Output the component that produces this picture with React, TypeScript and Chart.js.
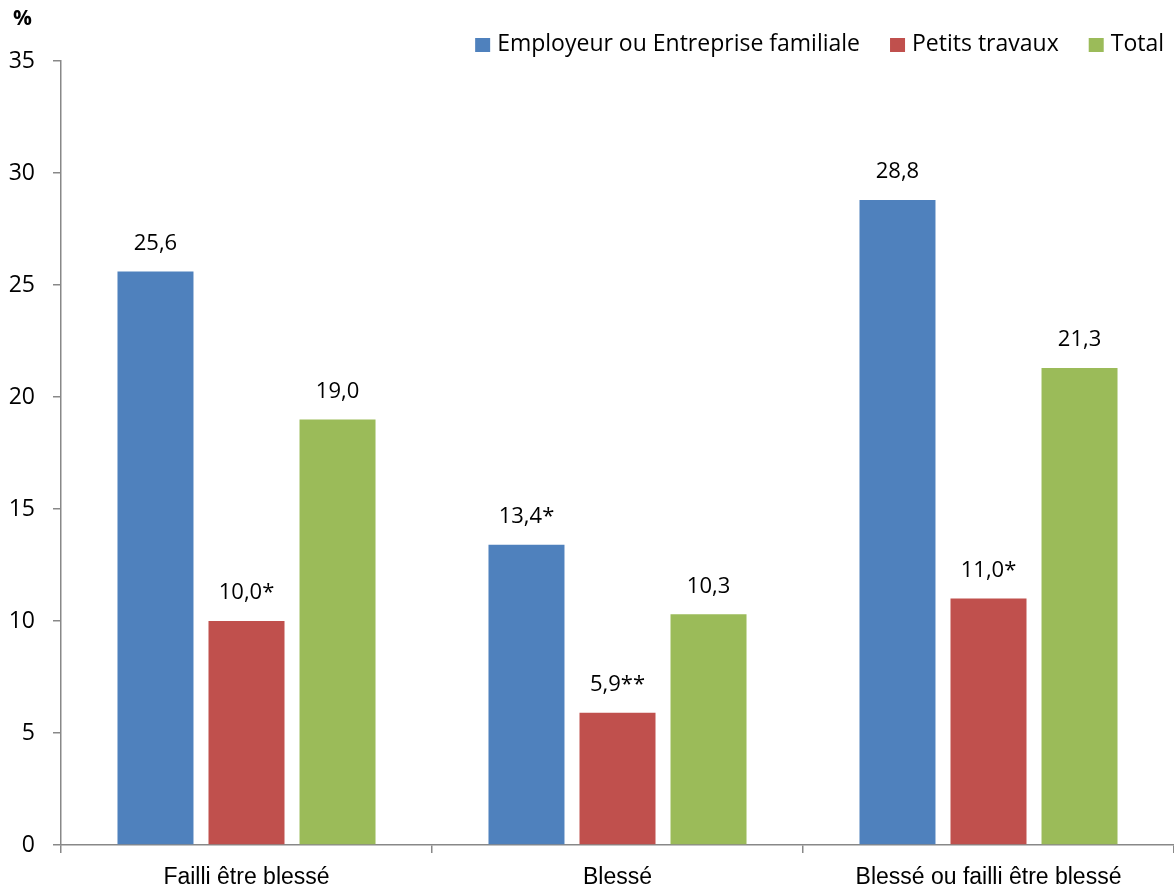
import React, { useEffect, useRef } from "react";
import { Chart, registerables } from "chart.js";

Chart.register(...registerables);

const categories = ["Failli être blessé", "Blessé", "Blessé ou failli être blessé"];
const seriesNames = ["Employeur ou Entreprise familiale", "Petits travaux", "Total"];
const employeurValues = [25.6, 13.4, 28.8];
const petitsValues = [10.0, 5.9, 11.0];
const totalValues = [19.0, 10.3, 21.3];
const employeurLabels = ["25,6", "13,4*", "28,8"];
const petitsLabels = ["10,0*", "5,9**", "11,0*"];
const totalLabels = ["19,0", "10,3", "21,3"];
const seriesColors = ["#4F81BD", "#C0504D", "#9BBB59"];
const yTicks = [0, 5, 10, 15, 20, 25, 30, 35];

const MAIN_FONT = "'Open Sans', Lato, sans-serif";
const NARROW_FONT = "'Liberation Sans Narrow', 'Arial Narrow', 'Liberation Sans', sans-serif";

const labelPlugin = {
  id: "customLabels",
  afterDatasetsDraw(chart: any) {
    const ctx = chart.ctx;
    const labelSets = [employeurLabels, petitsLabels, totalLabels];
    ctx.save();
    ctx.font = `22px ${MAIN_FONT}`;
    ctx.fillStyle = "#000";
    ctx.textAlign = "center";
    ctx.textBaseline = "middle";
    chart.data.datasets.forEach((ds: any, di: number) => {
      const meta = chart.getDatasetMeta(di);
      meta.data.forEach((bar: any, i: number) => {
        ctx.fillText(labelSets[di][i], bar.x, bar.y - 28);
      });
    });
    // % title
    ctx.font = `bold 21px ${MAIN_FONT}`;
    ctx.textAlign = "left";
    ctx.fillText("%", 13, 19);
    // legend
    ctx.font = `23px ${MAIN_FONT}`;
    let x = 1164;
    const items = chart.data.datasets.map((d: any) => ({ label: d.label, color: d.backgroundColor }));
    for (let k = items.length - 1; k >= 0; k--) {
      const w = ctx.measureText(items[k].label).width;
      const tx = x - w;
      ctx.fillStyle = "#000";
      ctx.textAlign = "left";
      ctx.fillText(items[k].label, tx, 44);
      ctx.fillStyle = items[k].color;
      ctx.fillRect(tx - 22, 38, 15, 14);
      x = tx - 22 - 30;
    }
    ctx.restore();
  },
};

export default function App() {
  const ref = useRef<HTMLCanvasElement>(null);
  useEffect(() => {
    document.body.style.margin = "0";
    const datasets = [employeurValues, petitsValues, totalValues].map((vals, i) => ({
      label: seriesNames[i],
      data: vals,
      backgroundColor: seriesColors[i],
      borderWidth: 0,
      barPercentage: 0.835,
      categoryPercentage: 0.736,
    }));
    const chart = new Chart(ref.current!, {
      type: "bar",
      data: { labels: categories, datasets },
      options: {
        animation: false,
        responsive: false,
        devicePixelRatio: 1,
        layout: { padding: { top: 61, right: 0, left: 0, bottom: 0 } },
        plugins: { legend: { display: false }, tooltip: { enabled: false } },
        scales: {
          x: {
            grid: { display: true, drawOnChartArea: false, offset: true, tickLength: 8, color: "#888", lineWidth: 1.5 },
            border: { display: true, color: "#888", width: 1.5 },
            ticks: { font: { family: NARROW_FONT, size: 23 }, color: "#000", padding: 11 },
            afterFit: (s: any) => { s.height = 45; },
          },
          y: {
            min: 0,
            max: 35,
            afterBuildTicks: (s: any) => { s.ticks = yTicks.map((v) => ({ value: v })); },
            grid: { display: true, drawOnChartArea: false, tickLength: 8, color: "#888", lineWidth: 1.5 },
            border: { display: true, color: "#888", width: 1.5 },
            ticks: { font: { family: MAIN_FONT, size: 23 }, color: "#000", padding: 18 },
            afterFit: (s: any) => { s.width = 61; },
          },
        },
      },
      plugins: [labelPlugin],
    });
    return () => chart.destroy();
  }, []);
  return (
    <div style={{ position: "absolute", left: 0, top: 0, width: 1174, height: 890 }}>
      <canvas ref={ref} width={1174} height={890} style={{ width: 1174, height: 890 }} />
    </div>
  );
}
